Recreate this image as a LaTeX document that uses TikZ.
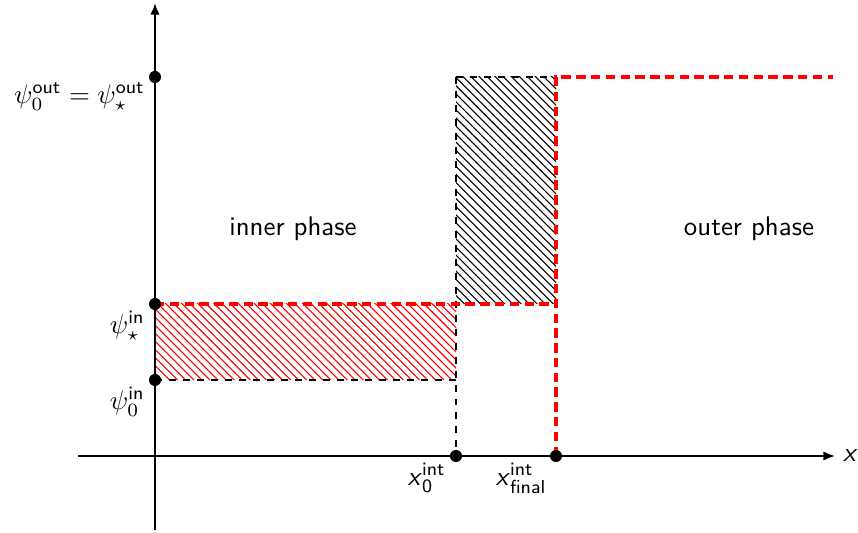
\documentclass[tikz,border=0pt]{standalone}
\usepackage{amsmath}
\usetikzlibrary{patterns,arrows.meta}
\begin{document}
\begin{tikzpicture}[x=0.372pt,y=-0.372pt, font=\sffamily,
  dot/.style={circle,fill=black,inner sep=0pt,minimum size=4.5pt},
  axis/.style={line width=0.7pt,-{Latex[length=4.3pt,width=3.5pt]}},
  bdash/.style={line width=0.52pt,dash pattern=on 2.6pt off 2.6pt},
  rdash/.style={red,line width=1.4pt,dash pattern=on 3.5pt off 2pt},
  lbl/.style={anchor=north east,inner sep=1pt}]
\useasboundingbox (0,0) rectangle (858,533);
% positions
\coordinate (ybot) at (155,530);
\coordinate (ytop) at (155,3);
\coordinate (xl) at (78,456);
\coordinate (xr) at (835,456);
\coordinate (P0out) at (155,77);
\coordinate (Psin) at (155,304);
\coordinate (P0in) at (155,380);
\coordinate (X0) at (456,456);
\coordinate (Xf) at (556,456);
\coordinate (a) at (456,380);
\coordinate (b) at (456,304);
\coordinate (c) at (456,77);
\coordinate (d) at (556,77);
\coordinate (e) at (556,304);
\coordinate (f) at (833,77);
% hatched regions
\fill[pattern=north west lines,pattern color=red] (Psin) rectangle (a);
\fill[pattern=north west lines] (b) rectangle (d);
% axes
\draw[axis] (ybot) -- (ytop);
\draw[axis] (xl) -- (xr);
% dashed borders
\draw[bdash] (P0in) -- (a);
\draw[bdash] (c) -- (X0);
\draw[bdash] (c) -- (d);
\draw[rdash] (Psin) -- (e);
\draw[rdash] (Xf) -- (d) -- (f);
% dots
\node[dot] (n1) at (P0out) {};
\node[dot] (n2) at (Psin) {};
\node[dot] (n3) at (P0in) {};
\node[dot] (n4) at (X0) {};
\node[dot] (n5) at (Xf) {};
% labels
\node[lbl] (l1) at (148,80) {$\psi_0^{\textsf{out}} = \psi_\star^{\textsf{out}}$};
\node[lbl] (l2) at (148,308) {$\psi_\star^{\textsf{in}}$};
\node[lbl] (l3) at (148,384) {$\psi_0^{\textsf{in}}$};
\node[lbl] (l4) at (449,460) {\textit{x}$_{\textsf{0}}^{\textsf{int}}$};
\node[lbl] (l5) at (550,460) {\textit{x}$_{\textsf{final}}^{\textsf{int}}$};
\node[anchor=west,inner sep=1pt] (l6) at (840,456) {\textit{x}};
\node (t1) at (293,229) {inner phase};
\node (t2) at (749,229) {outer phase};
\end{tikzpicture}
\end{document}
